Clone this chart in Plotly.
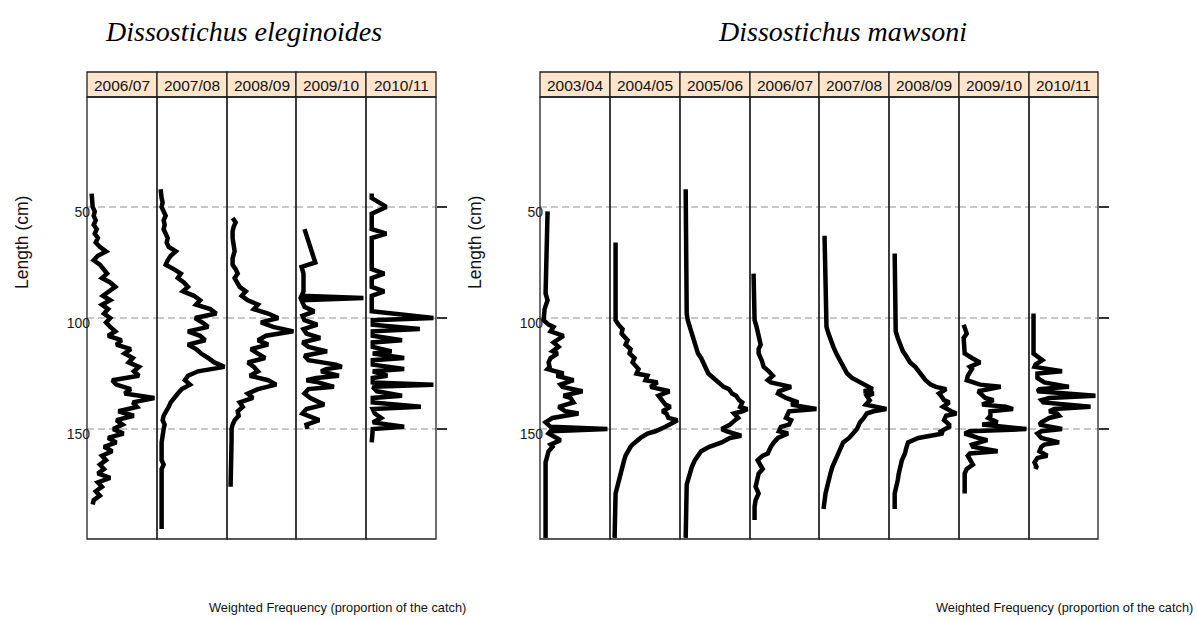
import plotly.graph_objects as go

# ---------------- data ----------------
# length bins (cm) and weighted frequency (per mille of the catch)
ele_years = ["2006/07", "2007/08", "2008/09", "2009/10", "2010/11"]
maw_years = ["2003/04", "2004/05", "2005/06", "2006/07", "2007/08", "2008/09", "2009/10", "2010/11"]
y_ticks = [50, 100, 150]

ele_0607_len = [44, 46, 48, 50, 52, 54, 56, 58, 60, 62, 64, 66, 68, 70, 72, 74, 76, 78, 80, 82, 84, 86, 88, 90,
                92, 94, 96, 98, 100, 102, 104, 106, 108, 110, 112, 114, 116, 118, 120, 122, 124, 126, 128, 130,
                132, 134, 136, 138, 140, 142, 144, 146, 148, 150, 152, 154, 156, 158, 160, 162, 164, 166, 168,
                170, 172, 174, 176, 178, 180, 182, 184]
ele_0607_freq = [2, 2, 3, 3, 5, 4, 6, 4, 7, 5, 8, 6, 10, 16, 8, 4, 10, 13, 17, 12, 20, 25, 18, 13,
                 20, 12, 18, 14, 20, 16, 20, 25, 18, 31, 26, 40, 34, 42, 38, 48, 43, 48, 22, 26,
                 40, 34, 63, 42, 46, 28, 43, 26, 32, 23, 33, 18, 26, 14, 22, 12, 16, 10, 14,
                 8, 20, 8, 12, 6, 10, 4, 3]

ele_0708_len = [42, 44, 46, 48, 50, 52, 54, 56, 58, 60, 62, 64, 66, 68, 70, 72, 74, 76, 78, 80, 82, 84, 86, 88,
                90, 92, 94, 96, 98, 100, 102, 104, 106, 108, 110, 112, 114, 116, 118, 120, 122, 124, 126, 128,
                130, 132, 134, 136, 138, 140, 142, 144, 146, 148, 150, 152, 154, 156, 160, 164, 166, 168, 172,
                180, 188, 195]
ele_0708_freq = [1, 1, 2, 3, 2, 4, 6, 4, 5, 4, 6, 8, 7, 9, 16, 11, 8, 6, 14, 21, 18, 24, 28, 23,
                 34, 40, 36, 50, 56, 35, 42, 48, 28, 40, 45, 28, 36, 41, 48, 54, 64, 38, 28, 25,
                 30, 22, 18, 14, 11, 9, 6, 4, 3, 5, 4, 3, 2, 2, 2, 2, 4, 2, 2,
                 2, 2, 2]

ele_0809_len = [55, 57, 59, 61, 64, 67, 70, 73, 76, 78, 80, 82, 84, 86, 88, 90, 92, 94, 96, 98, 100, 102, 104,
                106, 108, 110, 112, 114, 116, 118, 120, 122, 124, 126, 128, 130, 132, 134, 136, 138, 140, 142,
                144, 146, 148, 150, 155, 165, 176]
ele_0809_freq = [3, 6, 4, 3, 3, 4, 5, 3, 3, 6, 8, 5, 7, 10, 16, 12, 18, 28, 24, 38, 48, 31, 43,
                 63, 36, 28, 38, 21, 28, 35, 18, 24, 28, 20, 38, 46, 28, 18, 23, 10, 13, 8,
                 9, 5, 3, 2, 2, 1, 1]

ele_0910_len = [60, 75, 77, 80, 88, 90, 91, 92, 95, 97, 99, 101, 103, 105, 107, 109, 111, 113, 115, 117,
                119, 121, 122, 123, 124, 126, 127, 128, 129, 131, 132, 134, 136, 139, 141, 143, 146, 148, 150]
ele_0910_freq = [6, 17, 3, 5, 5, 3, 66, 3, 6, 16, 4, 6, 19, 5, 8, 22, 4, 10, 29, 6,
                 10, 38, 44, 28, 23, 41, 18, 8, 20, 36, 10, 6, 12, 26, 8, 4, 21, 8, 9]

ele_1011_len = [44, 46, 50, 53, 60, 62, 64, 78, 80, 82, 86, 88, 90, 97, 100, 101, 103, 105, 106, 108, 110,
                111, 113, 115, 116, 118, 119, 121, 123, 124, 126, 127, 129, 130, 131, 133, 135, 136, 138,
                140, 141, 143, 145, 147, 149, 150, 156]
ele_1011_freq = [3, 3, 17, 3, 3, 17, 3, 3, 15, 3, 3, 15, 3, 3, 62, 4, 4, 49, 4, 4, 32,
                 4, 4, 22, 4, 34, 4, 4, 34, 4, 18, 4, 4, 62, 4, 8, 32, 4, 4,
                 50, 4, 6, 12, 4, 34, 4, 3]

maw_0304_len = [52, 89, 92, 96, 101, 103, 104, 106, 108, 110, 111, 113, 115, 116, 118, 120, 122, 123, 125,
                126, 128, 130, 131, 133, 135, 136, 138, 140, 142, 143, 145, 147, 149, 150, 151, 152, 154,
                155, 157, 158, 160, 162, 165, 199]
maw_0304_freq = [5, 3, 5, 2, 1, 6, 11, 8, 21, 13, 11, 16, 10, 15, 8, 6, 7, 5, 21,
                 14, 31, 18, 20, 40, 21, 28, 31, 16, 23, 36, 10, 3, 8, 65, 8, 6, 13,
                 18, 8, 10, 6, 5, 3, 3]

maw_0405_len = [66, 98, 101, 103, 105, 107, 110, 112, 114, 116, 118, 120, 123, 125, 126, 128, 129, 131, 133,
                135, 137, 139, 140, 142, 143, 145, 146, 148, 149, 151, 152, 154, 155, 157, 158, 160, 162,
                165, 167, 170, 173, 176, 179, 199]
maw_0405_freq = [3, 2, 3, 6, 10, 9, 15, 13, 18, 17, 22, 20, 26, 24, 35, 33, 45, 38, 57,
                 46, 50, 53, 58, 50, 54, 56, 65, 58, 53, 43, 35, 28, 25, 20, 18, 15, 13,
                 11, 10, 8, 7, 5, 3, 2]

maw_0506_len = [42, 90, 98, 101, 104, 107, 110, 113, 116, 118, 120, 122, 125, 127, 129, 131, 132, 134, 135,
                137, 138, 140, 141, 142, 143, 145, 146, 148, 150, 151, 153, 154, 156, 158, 160, 162, 164,
                167, 170, 172, 175, 199]
maw_0506_freq = [3, 3, 4, 5, 7, 9, 12, 13, 15, 18, 20, 22, 25, 30, 35, 40, 45, 48, 52,
                 55, 58, 56, 63, 58, 50, 54, 51, 46, 38, 43, 57, 46, 38, 26, 18, 15, 12,
                 9, 7, 6, 4, 3]

maw_0607_len = [80, 101, 104, 106, 109, 112, 114, 116, 119, 122, 124, 126, 128, 129, 131, 133, 134, 136, 138,
                139, 141, 142, 143, 145, 146, 148, 149, 151, 152, 154, 156, 158, 161, 162, 164, 166, 168,
                170, 172, 174, 176, 179, 182, 185, 191]
maw_0607_freq = [1, 2, 4, 5, 7, 8, 6, 6, 9, 11, 16, 20, 15, 18, 38, 26, 25, 33, 45,
                 38, 63, 36, 35, 33, 38, 36, 28, 26, 35, 25, 21, 18, 15, 10, 5, 7, 10,
                 6, 5, 3, 3, 6, 3, 2, 2]

maw_0708_len = [63, 101, 104, 107, 110, 113, 116, 119, 122, 125, 127, 129, 131, 132, 133, 134, 135, 137, 139,
                140, 141, 142, 143, 145, 147, 150, 152, 154, 156, 158, 161, 164, 167, 170, 173, 176, 179, 186]
maw_0708_freq = [3, 4, 5, 7, 9, 12, 15, 19, 22, 26, 31, 39, 48, 52, 43, 53, 46, 49, 45,
                 58, 66, 53, 46, 43, 39, 36, 32, 28, 22, 20, 16, 13, 11, 9, 7, 5, 4, 2]

maw_0809_len = [71, 101, 104, 106, 109, 112, 115, 117, 120, 122, 124, 126, 128, 130, 131, 132, 134, 135, 137,
                138, 140, 142, 143, 144, 146, 148, 149, 151, 152, 154, 156, 159, 161, 164, 167, 170, 173,
                176, 179, 186]
maw_0809_freq = [3, 3, 3, 4, 6, 8, 11, 14, 18, 23, 26, 29, 33, 38, 43, 53, 46, 48, 51,
                 56, 50, 58, 63, 53, 51, 56, 56, 48, 50, 26, 16, 14, 13, 10, 8, 7, 6,
                 4, 3, 3]

maw_0910_len = [103, 105, 107, 109, 110, 113, 116, 118, 120, 122, 123, 126, 128, 130, 131, 133, 134, 136, 137,
                139, 140, 141, 142, 144, 145, 147, 148, 150, 151, 152, 154, 155, 157, 158, 160, 161, 162,
                164, 166, 168, 170, 174, 179]
maw_0910_freq = [2, 4, 5, 2, 2, 3, 3, 10, 18, 8, 10, 6, 5, 18, 38, 16, 18, 23, 31,
                 20, 43, 50, 28, 28, 26, 35, 20, 63, 8, 3, 16, 25, 10, 11, 35, 8, 6,
                 8, 11, 5, 3, 3, 3]

maw_1011_len = [98, 116, 119, 121, 122, 124, 125, 127, 129, 131, 132, 133, 135, 136, 137, 138, 140, 141, 142,
                143, 144, 145, 147, 148, 150, 151, 152, 154, 156, 157, 158, 160, 162, 163, 165, 167, 168]
maw_1011_freq = [2, 2, 11, 4, 3, 31, 6, 6, 13, 38, 8, 6, 65, 18, 10, 12, 60, 23, 18,
                 26, 28, 18, 10, 8, 31, 10, 6, 10, 28, 13, 10, 8, 16, 6, 3, 5, 4]

ele_series = [(ele_0607_len, ele_0607_freq), (ele_0708_len, ele_0708_freq), (ele_0809_len, ele_0809_freq),
              (ele_0910_len, ele_0910_freq), (ele_1011_len, ele_1011_freq)]
maw_series = [(maw_0304_len, maw_0304_freq), (maw_0405_len, maw_0405_freq), (maw_0506_len, maw_0506_freq),
              (maw_0607_len, maw_0607_freq), (maw_0708_len, maw_0708_freq), (maw_0809_len, maw_0809_freq),
              (maw_0910_len, maw_0910_freq), (maw_1011_len, maw_1011_freq)]

# ---------------- layout geometry (pixels) ----------------
W, H = 1197, 620
ele_edges = [87, 157, 227, 296, 366, 436]
maw_edges = [540, 610, 680, 750, 819, 889, 959, 1029, 1098]
STRIP_TOP, PLOT_TOP, PLOT_BOT = 72, 97, 539
Y_RANGE = [199.5, 0.5]

SANS = "Liberation Sans, Arial, sans-serif"
SERIF = "Liberation Serif, Times New Roman, serif"


def fx(x):
    return x / W


def fy(y):
    return 1 - y / H


fig = go.Figure()
layout = {}
shapes = []
annotations = []

k = 0
groups = [(ele_years, ele_series, ele_edges), (maw_years, maw_series, maw_edges)]
for years, series, edges in groups:
    n = len(years)
    for i in range(n):
        k += 1
        xa = "x" if k == 1 else f"x{k}"
        ya = "y" if k == 1 else f"y{k}"
        lens, freqs = series[i]
        M = max(freqs)
        fig.add_trace(go.Scatter(
            x=freqs, y=lens, mode="lines",
            line=dict(color="black", width=4.5),
            xaxis=xa, yaxis=ya, showlegend=False, hoverinfo="skip"))
        first, last = i == 0, i == n - 1
        layout["xaxis" if k == 1 else f"xaxis{k}"] = dict(
            domain=[fx(edges[i]), fx(edges[i + 1])], range=[-0.04 * M, 1.04 * M],
            anchor=ya, visible=False, fixedrange=True)
        layout["yaxis" if k == 1 else f"yaxis{k}"] = dict(
            domain=[fy(PLOT_BOT), fy(PLOT_TOP)], range=Y_RANGE, anchor=xa,
            tickvals=y_ticks, ticktext=[str(v) for v in y_ticks],
            showgrid=True, gridcolor="#c8c8c8", griddash="7px,4px", gridwidth=1.5,
            zeroline=False, showline=False,
            showticklabels=first, ticklabelstandoff=-4, ticklabelshift=-5,
            ticks="outside" if last else "", ticklen=10 if last else 0, tickwidth=1.5,
            tickcolor="#333333", side="right" if last else "left",
            tickfont=dict(family=SANS, size=14, color="#1a1a1a"), fixedrange=True)
        # panel border
        shapes.append(dict(type="rect", xref="paper", yref="paper",
                           x0=fx(edges[i]), x1=fx(edges[i + 1]), y0=fy(PLOT_BOT), y1=fy(PLOT_TOP),
                           line=dict(color="#222222", width=1.3), fillcolor="rgba(0,0,0,0)", layer="above"))
        # strip
        shapes.append(dict(type="rect", xref="paper", yref="paper",
                           x0=fx(edges[i]), x1=fx(edges[i + 1]), y0=fy(PLOT_TOP), y1=fy(STRIP_TOP),
                           line=dict(color="#222222", width=1.3), fillcolor="#FFE5CC", layer="below"))
        annotations.append(dict(text=years[i], xref="paper", yref="paper",
                                x=fx((edges[i] + edges[i + 1]) / 2), y=fy((STRIP_TOP + PLOT_TOP) / 2 + 1),
                                xanchor="center", yanchor="middle", showarrow=False,
                                font=dict(family=SANS, size=15.5, color="#111111")))

# titles
annotations.append(dict(text="<i>Dissostichus eleginoides</i>", xref="paper", yref="paper",
                        x=fx(243), y=fy(31), xanchor="center", yanchor="middle", showarrow=False,
                        font=dict(family=SERIF, size=28, color="black")))
annotations.append(dict(text="<i>Dissostichus mawsoni</i>", xref="paper", yref="paper",
                        x=fx(842), y=fy(31), xanchor="center", yanchor="middle", showarrow=False,
                        font=dict(family=SERIF, size=28, color="black")))
# y axis titles
for xc in (22, 475):
    annotations.append(dict(text="Length (cm)", xref="paper", yref="paper",
                            x=fx(xc), y=fy(243), xanchor="center", yanchor="middle", textangle=-90,
                            showarrow=False, font=dict(family=SANS, size=17.5, color="#111111")))
# x axis titles
annotations.append(dict(text="Weighted Frequency (proportion of the catch)", xref="paper", yref="paper",
                        x=fx(207), y=fy(607), xanchor="left", yanchor="middle", showarrow=False,
                        font=dict(family=SANS, size=12.8, color="#111111")))
annotations.append(dict(text="Weighted Frequency (proportion of the catch)", xref="paper", yref="paper",
                        x=fx(1195), y=fy(607), xanchor="right", yanchor="middle", showarrow=False,
                        font=dict(family=SANS, size=12.8, color="#111111")))

fig.update_layout(**layout)
fig.update_layout(
    width=W, height=H, margin=dict(l=0, r=0, t=0, b=0),
    paper_bgcolor="white", plot_bgcolor="white",
    shapes=shapes, annotations=annotations, showlegend=False)

fig.write_html("out.html", config={"displayModeBar": False})
